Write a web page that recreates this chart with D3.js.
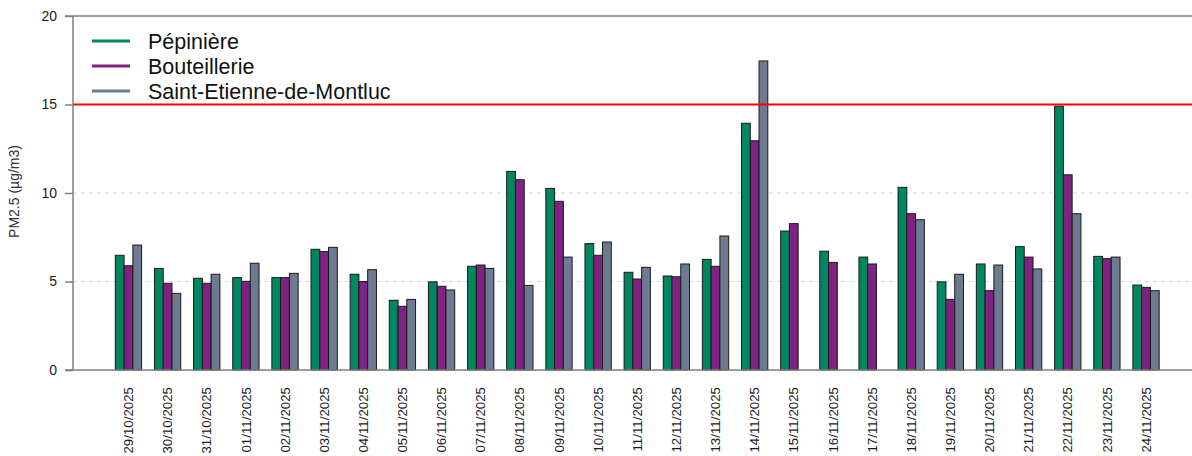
<!DOCTYPE html>
<html>
<head>
<meta charset="utf-8">
<script src="https://cdn.jsdelivr.net/npm/d3@7"></script>
<style>
  html, body { margin: 0; padding: 0; background: #fff; }
  svg { display: block; font-family: "Liberation Sans", Arial, sans-serif; }
</style>
</head>
<body>
<svg id="chart" width="1192" height="456"></svg>
<script>
const dates = ["29/10/2025","30/10/2025","31/10/2025","01/11/2025","02/11/2025","03/11/2025","04/11/2025","05/11/2025","06/11/2025","07/11/2025","08/11/2025","09/11/2025","10/11/2025","11/11/2025","12/11/2025","13/11/2025","14/11/2025","15/11/2025","16/11/2025","17/11/2025","18/11/2025","19/11/2025","20/11/2025","21/11/2025","22/11/2025","23/11/2025","24/11/2025"];
const seriesNames = ["Pépinière", "Bouteillerie", "Saint-Etienne-de-Montluc"];
const pepiniere = [6.48,5.74,5.18,5.22,5.22,6.82,5.41,3.94,4.98,5.86,11.22,10.26,7.14,5.52,5.31,6.25,13.94,7.85,6.71,6.38,10.32,4.98,5.99,6.97,14.90,6.42,4.80];
const bouteillerie = [5.89,4.90,4.90,5.01,5.22,6.69,5.00,3.60,4.73,5.93,10.75,9.53,6.48,5.14,5.27,5.86,12.95,8.27,6.08,5.99,8.83,3.99,4.48,6.38,11.03,6.29,4.67];
const saintEtienne = [7.06,4.33,5.41,6.03,5.46,6.93,5.67,3.99,4.52,5.74,4.78,6.38,7.23,5.80,5.99,7.57,17.46,null,null,null,8.49,5.41,5.93,5.71,8.83,6.38,4.48];
const yTicks = [0, 5, 10, 15, 20];
const gridValues = [5, 10];
const threshold = 15;
const yTitle = "PM2.5 (µg/m3)";

const colors = ["#00875f", "#7f2282", "#6c7b91"];
const seriesValues = [pepiniere, bouteillerie, saintEtienne];

const svg = d3.select("#chart");
const plotLeft = 73, plotRight = 1192, plotTop = 16, plotBottom = 370;

const y = d3.scaleLinear().domain([0, 20]).range([plotBottom, plotTop]);
const x = d3.scaleBand().domain(dates).range([108.9, 1165.6]).paddingInner(0.328).paddingOuter(0.164);
const xs = d3.scaleBand().domain(seriesNames).range([0, x.bandwidth()]);

// grid lines
svg.append("g").selectAll("line").data(gridValues).join("line")
  .attr("x1", plotLeft).attr("x2", plotRight)
  .attr("y1", d => y(d)).attr("y2", d => y(d))
  .attr("stroke", "#d9d9d9").attr("stroke-width", 1.2).attr("stroke-dasharray", "4,4");

// bars
const rows = dates.map((d, i) => ({ date: d, vals: seriesNames.map((s, k) => ({ s, k, v: seriesValues[k][i] })) }));
const groups = svg.append("g").selectAll("g").data(rows).join("g")
  .attr("transform", d => `translate(${x(d.date)},0)`);
groups.selectAll("rect").data(d => d.vals.filter(v => v.v != null)).join("rect")
  .attr("x", d => xs(d.s))
  .attr("width", xs.bandwidth())
  .attr("y", d => y(d.v))
  .attr("height", d => y(0) - y(d.v))
  .attr("fill", d => colors[d.k])
  .attr("stroke", "#1a1a1a").attr("stroke-width", 1);

// threshold line
svg.append("line")
  .attr("x1", plotLeft).attr("x2", plotRight)
  .attr("y1", y(threshold)).attr("y2", y(threshold))
  .attr("stroke", "#ff0000").attr("stroke-width", 2);

// axes frame
const axisColor = "#7f7f7f";
svg.append("line").attr("x1", plotLeft).attr("x2", plotLeft).attr("y1", plotTop).attr("y2", plotBottom)
  .attr("stroke", axisColor).attr("stroke-width", 1.5);
svg.append("line").attr("x1", plotLeft - 8).attr("x2", plotRight).attr("y1", plotTop).attr("y2", plotTop)
  .attr("stroke", axisColor).attr("stroke-width", 1.5);
svg.append("line").attr("x1", plotLeft - 8).attr("x2", plotRight).attr("y1", plotBottom).attr("y2", plotBottom)
  .attr("stroke", axisColor).attr("stroke-width", 1.5);

// y axis
const yAxis = d3.axisLeft(y).tickValues(yTicks).tickSize(8).tickPadding(8);
const gy = svg.append("g").attr("transform", `translate(${plotLeft},0)`).call(yAxis);
gy.select(".domain").remove();
gy.selectAll(".tick line").attr("stroke", axisColor).attr("stroke-width", 1.5);
gy.selectAll(".tick text").attr("font-size", 14).attr("fill", "#1a1a1a")
  .attr("font-family", "Liberation Sans, Arial, sans-serif");

// x axis labels
const xAxis = d3.axisBottom(x).tickSize(0).tickPadding(0);
const gx = svg.append("g").attr("transform", `translate(0,${plotBottom})`).call(xAxis);
gx.select(".domain").remove();
gx.selectAll(".tick text")
  .attr("font-size", 13.3).attr("fill", "#1a1a1a")
  .attr("font-family", "Liberation Sans, Arial, sans-serif")
  .attr("transform", "rotate(-90)")
  .attr("text-anchor", "end")
  .attr("x", -17).attr("y", 0).attr("dy", "0.35em");

// y title
svg.append("text")
  .attr("transform", `translate(19,${(143 + 240) / 2}) rotate(-90)`)
  .attr("text-anchor", "middle")
  .attr("font-size", 14).attr("fill", "#333")
  .text(yTitle);

// legend
const legend = svg.append("g");
const legendY = d3.scalePoint().domain(seriesNames).range([41, 91]);
seriesNames.forEach((s, k) => {
  legend.append("line").attr("x1", 92).attr("x2", 130)
    .attr("y1", legendY(s)).attr("y2", legendY(s))
    .attr("stroke", colors[k]).attr("stroke-width", 3);
  legend.append("text").attr("x", 148).attr("y", legendY(s)).attr("dy", "0.35em")
    .attr("font-size", 21.5).attr("fill", "#111").text(s);
});
</script>
</body>
</html>
